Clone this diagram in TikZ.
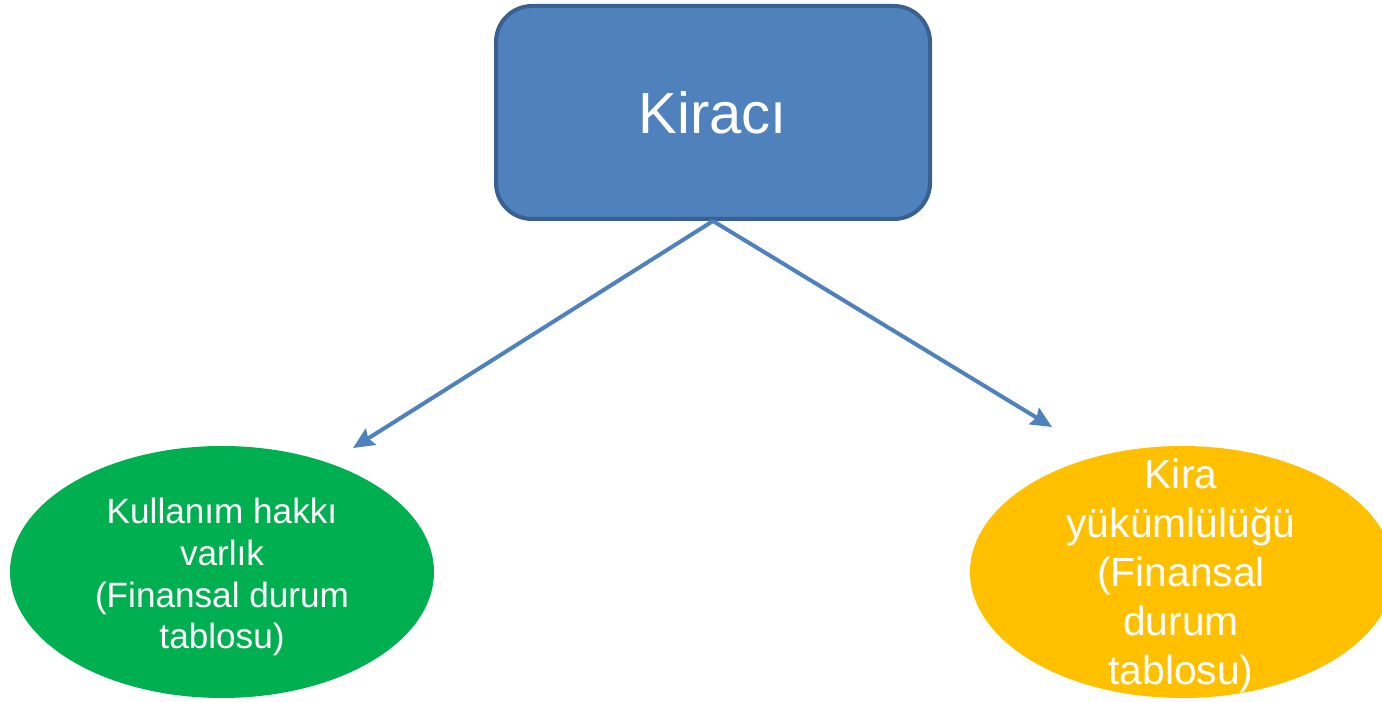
\documentclass[tikz,border=0pt]{standalone}
\usepackage{fontspec}
\setmainfont{Liberation Sans}
\usetikzlibrary{shapes.geometric,arrows.meta}
\definecolor{boxblue}{HTML}{4F81BD}
\definecolor{boxline}{HTML}{3A6090}
\definecolor{assetgreen}{HTML}{00B050}
\definecolor{debtyellow}{HTML}{FFC000}
\begin{document}
\begin{tikzpicture}
        \useasboundingbox (0,0) rectangle (13.82,-7.02);
        \node[draw=boxline, line width=0.04cm, fill=boxblue, rounded corners=0.36cm,
              minimum width=4.34cm, minimum height=2.13cm, text=white,
              font=\fontsize{16.5}{20}\selectfont] (lessee) at (7.13,-1.125) {Kiracı};
        \node[ellipse, fill=assetgreen, minimum width=4.24cm, minimum height=2.52cm,
              inner sep=0pt] (asset) at (2.22,-5.72) {};
        \node[ellipse, fill=debtyellow, minimum width=4.24cm, minimum height=2.52cm,
              inner sep=0pt] (debt) at (11.82,-5.72) {};
        \node[text=white, align=center, font=\fontsize{10}{11.9}\selectfont]
              (assettext) at ([yshift=-0.05cm]asset.center)
              {Kullanım hakkı\\varlık\\(Finansal durum\\tablosu)};
        \node[text=white, align=center, font=\fontsize{11.6}{13.9}\selectfont]
              (debttext) at ([xshift=-0.01cm, yshift=-0.04cm]debt.center)
              {Kira\\yükümlülüğü\\(Finansal\\durum\\tablosu)};
        \coordinate (assettip) at (3.53,-4.48);
        \coordinate (debttip) at (10.52,-4.27);
        \draw[boxblue, line width=0.04cm, -{Stealth[length=0.21cm, width=0.19cm, inset=0.03cm]}]
              (lessee.south) -- (assettip);
        \draw[boxblue, line width=0.04cm, -{Stealth[length=0.21cm, width=0.19cm, inset=0.03cm]}]
              (lessee.south) -- (debttip);
    \end{tikzpicture}
\end{document}
